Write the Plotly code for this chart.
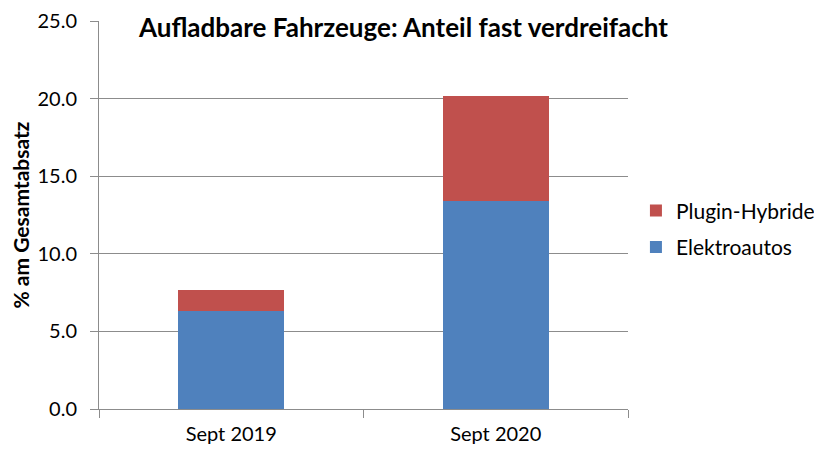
import plotly.graph_objects as go

# data
monate = ["Sept 2019", "Sept 2020"]
elektroautos = [6.3, 13.4]
plugin_hybride = [1.4, 6.8]
y_ticks = [0, 5, 10, 15, 20, 25]
y_labels = ["0.0", "5.0", "10.0", "15.0", "20.0", "25.0"]

FONT = "Lato"
GRID = "#8c8c8c"


def main():
    fig = go.Figure(data=[
        go.Bar(x=monate, y=elektroautos, name="Elektroautos",
               legendgroup="e", legendrank=2,
               marker=dict(color="#4f81bd", line=dict(width=0))),
        go.Bar(x=monate, y=plugin_hybride, name="Plugin-Hybride",
               legendgroup="p", legendrank=1,
               marker=dict(color="#c0504d", line=dict(width=0))),
    ])

    # page body adds ~8px offset, so margins are shifted accordingly
    fig.update_layout(
        barmode="stack",
        bargap=0.6,
        width=822, height=461,
        paper_bgcolor="white", plot_bgcolor="white",
        font=dict(family=FONT, size=20, color="black"),
        margin=dict(l=91, r=202, t=13, b=60, autoexpand=False),
        showlegend=True,
        legend=dict(x=1.015, y=0.464, xanchor="left", yanchor="middle",
                    traceorder="grouped", font=dict(size=21),
                    itemwidth=30, tracegroupgap=6),
        xaxis=dict(showline=True, linecolor=GRID, linewidth=1,
                   ticks="outside", tickson="boundaries", ticklen=8,
                   tickcolor=GRID, showgrid=False, automargin=False,
                   ticklabelstandoff=7),
        yaxis=dict(range=[0, 25], tickvals=y_ticks, ticktext=y_labels,
                   showline=True, linecolor=GRID, linewidth=1,
                   ticks="outside", ticklen=8, tickcolor=GRID,
                   showgrid=True, gridcolor=GRID, gridwidth=1,
                   zeroline=False, automargin=False,
                   ticklabelstandoff=9,
                   title=dict(text="<b>% am Gesamtabsatz</b>",
                              font=dict(size=21), standoff=8)),
        annotations=[dict(
            text="<b>Aufladbare Fahrzeuge: Anteil fast verdreifacht</b>",
            xref="paper", yref="paper", x=0.07, y=0.985,
            xanchor="left", yanchor="middle", showarrow=False,
            bgcolor="white", font=dict(size=26, family=FONT),
        )],
    )
    fig.write_html("out.html")


if __name__ == "__main__":
    main()
